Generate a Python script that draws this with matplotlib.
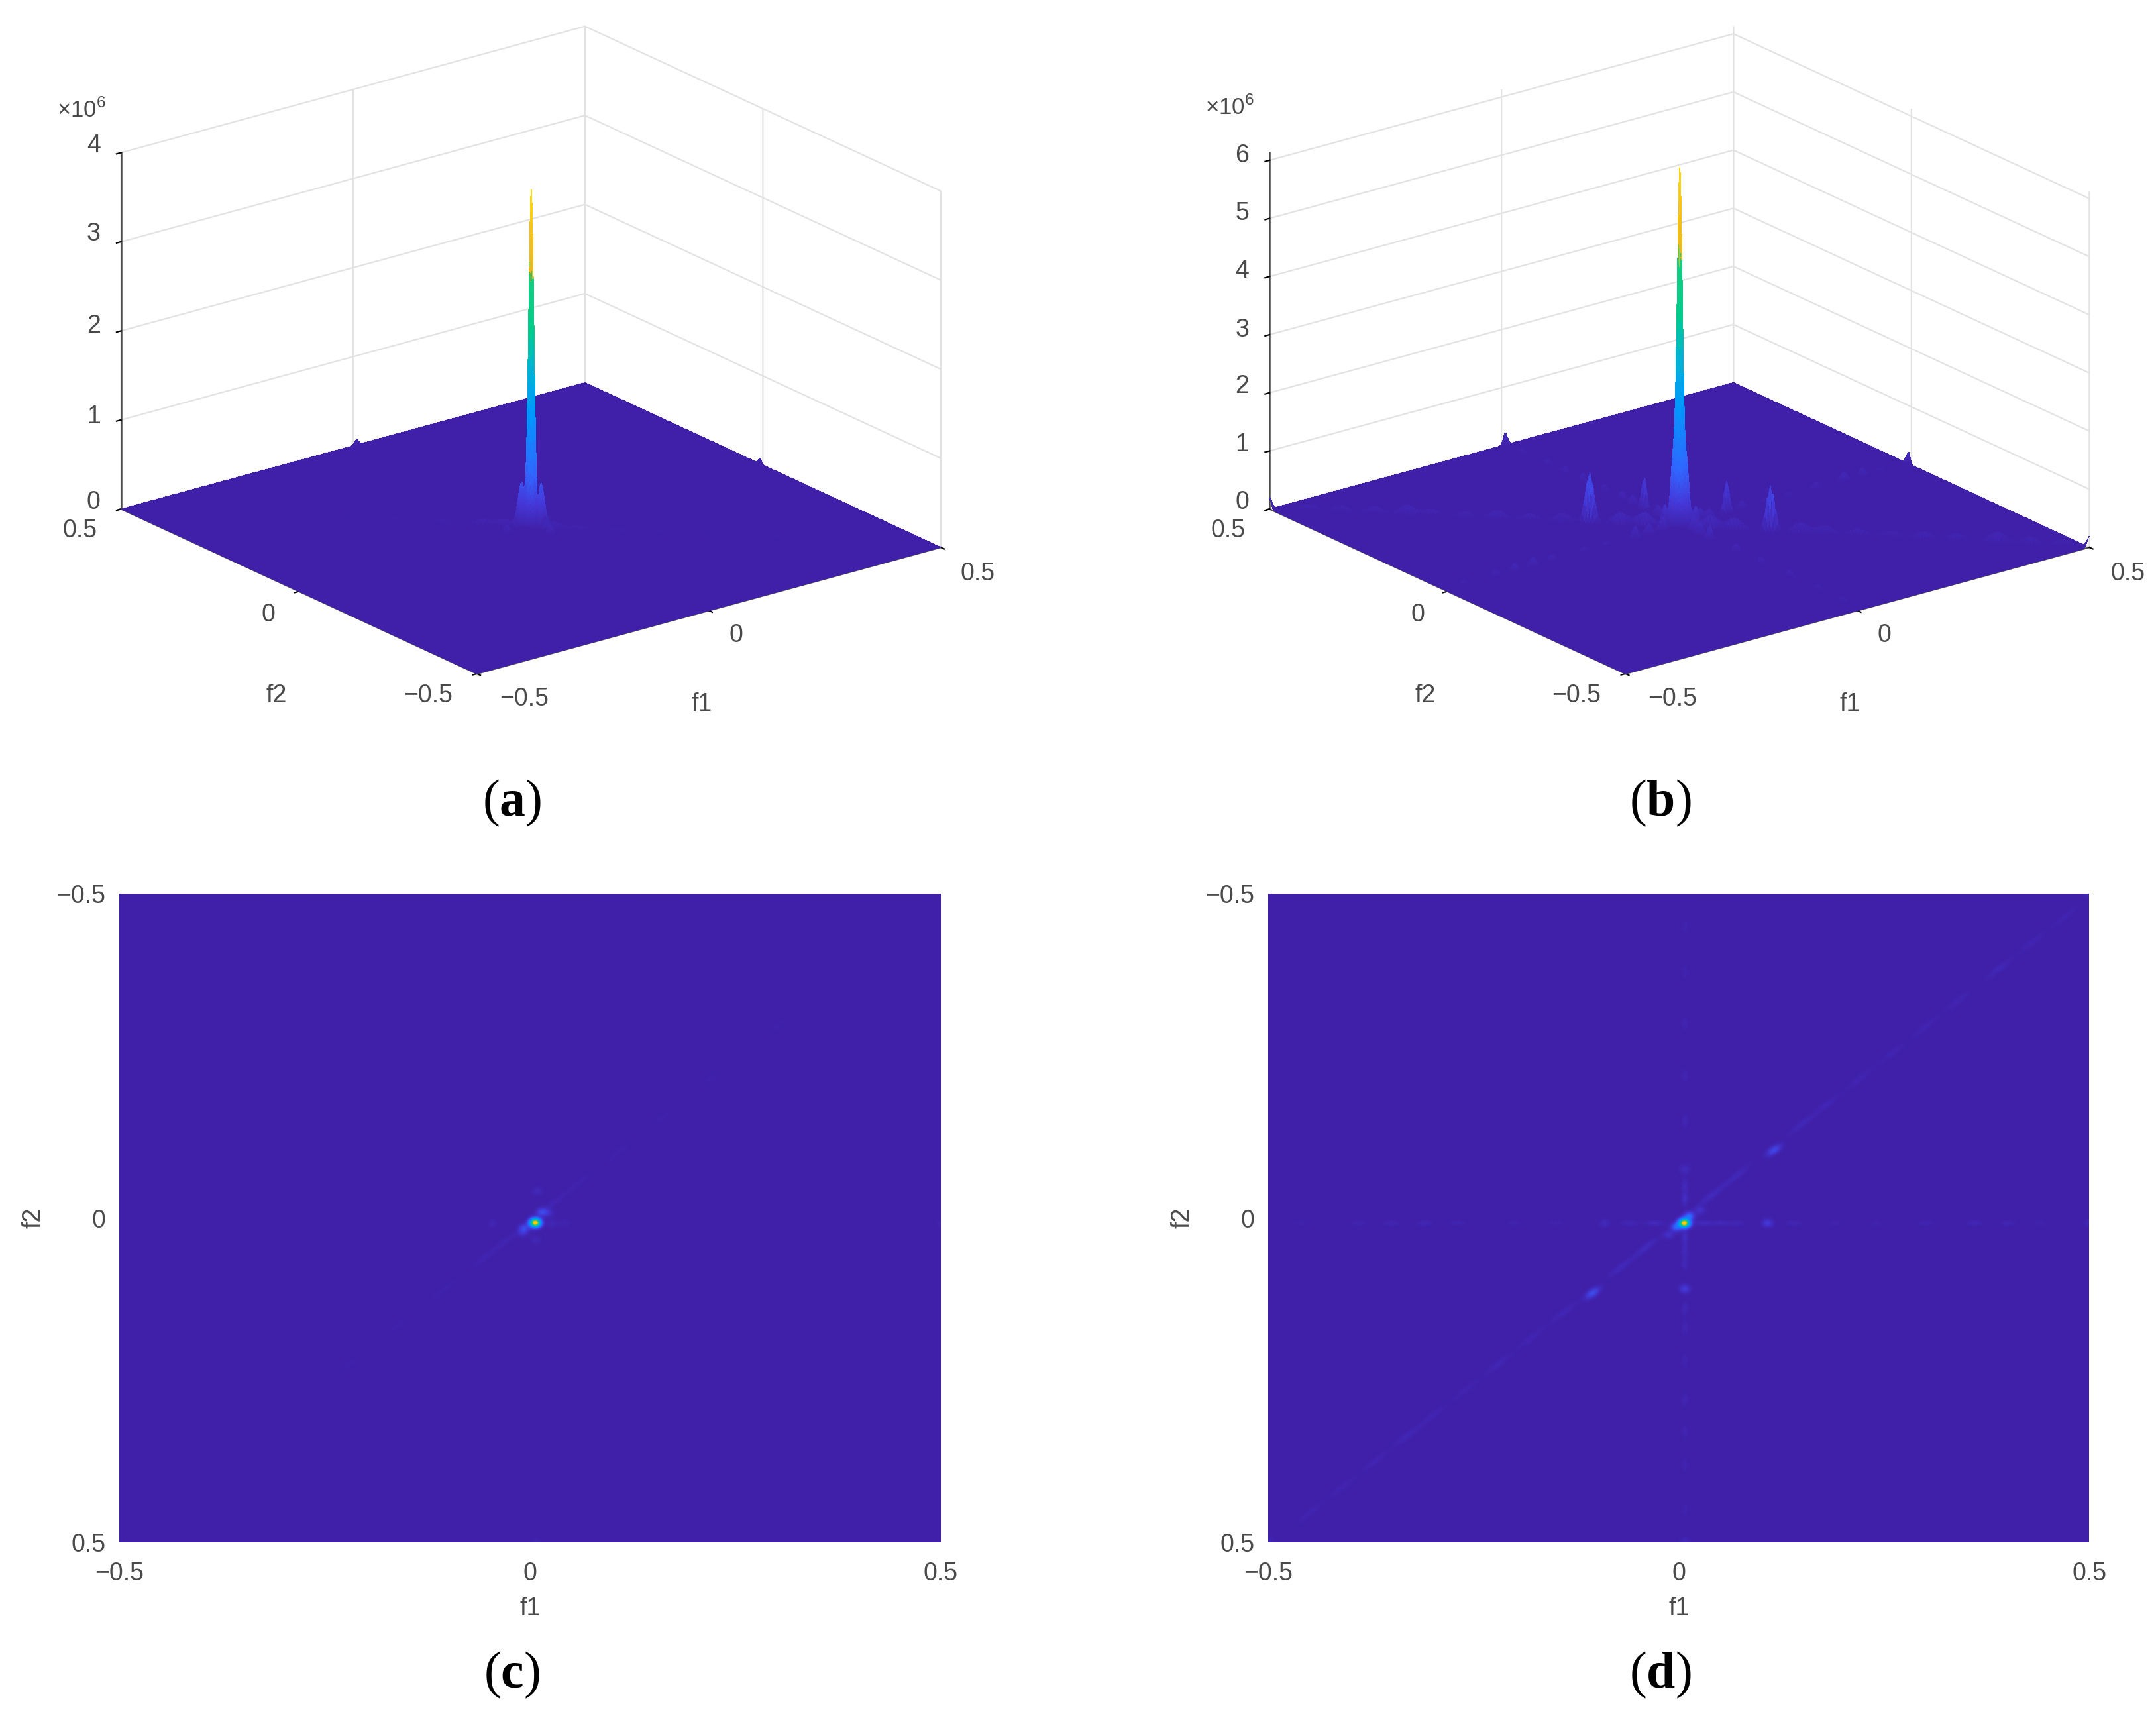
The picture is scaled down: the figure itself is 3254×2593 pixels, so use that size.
import numpy as np
import matplotlib
matplotlib.use("Agg")
import matplotlib.pyplot as plt
from matplotlib.colors import LinearSegmentedColormap
from mpl_toolkits.mplot3d import proj3d

W, H = 3255, 2593

plt.rcParams["font.family"] = ["Liberation Sans", "DejaVu Sans"]
plt.rcParams["mathtext.fontset"] = "custom"
plt.rcParams["mathtext.rm"] = "Liberation Sans"
plt.rcParams["mathtext.bf"] = "Liberation Serif:bold"

# parula-like map, with the sharp green to gold step the spike shows
parula = LinearSegmentedColormap.from_list("parula", [
  (0.00, (0.250, 0.125, 0.660)), (0.08, (0.270, 0.220, 0.850)), (0.18, (0.190, 0.400, 1.000)),
  (0.37, (0.000, 0.600, 1.000)), (0.53, (0.000, 0.720, 0.800)), (0.62, (0.000, 0.800, 0.550)),
  (0.78, (0.100, 0.800, 0.500)), (0.79, (0.900, 0.720, 0.150)), (0.90, (0.960, 0.760, 0.100)),
  (1.00, (1.000, 0.860, 0.020))], N=512)

# peaks: f1, f2, height in units of 1e6
a_f1 = [0.0065, -0.007, 0.014, -0.009, 0.022, 0.0075, 0.009, -0.046, 0.027, 0.043, 0.008, 0.500]
a_f2 = [0.0075, 0.0157, -0.0088, 0.023, -0.008, 0.034, -0.042, 0.008, 0.0085, 0.008, 0.500, 0.008]
a_amp = [3.79, 0.42, 0.42, 0.22, 0.22, 0.10, 0.12, 0.09, 0.10, 0.06, 0.06, 0.06]
a_diag_f1 = [-0.220, -0.160, -0.105, -0.056, -0.03, 0.03, 0.060, 0.109, 0.160, 0.220, 0.300]
a_diag_amp = [0.03, 0.03, 0.04, 0.07, 0.08, 0.08, 0.05, 0.04, 0.03, 0.03, 0.03]

b_f1 = [0.0069, 0.0129, -0.0031, -0.012, 0.026, 0.0075, 0.108, 0.0075, -0.090, 0.500, -0.500, 0.500, 0.008]
b_f2 = [0.0080, -0.0030, 0.0140, 0.026, -0.012, 0.109, 0.008, -0.075, 0.008, -0.500, 0.500, 0.008, 0.500]
b_amp = [6.13, 1.10, 1.10, 0.35, 0.35, 0.55, 0.55, 0.25, 0.22, 0.20, 0.20, 0.20, 0.20]
b_side_f1 = [0.116, -0.105]
b_side_f2 = [-0.105, 0.1155]
b_side_amp = [0.80, 0.89]

# weak lines of peaks in panels b and d
b_diag_f1 = [-0.45, -0.41, -0.37, -0.33, -0.30, -0.26, -0.22, -0.18, -0.14, -0.07, -0.04,
             0.04, 0.07, 0.15, 0.18, 0.22, 0.26, 0.30, 0.34, 0.39, 0.43, 0.47]
b_diag_amp = [0.11, 0.11, 0.13, 0.18, 0.13, 0.11, 0.16, 0.13, 0.16, 0.22, 0.25,
              0.25, 0.22, 0.19, 0.16, 0.13, 0.11, 0.13, 0.13, 0.19, 0.13, 0.11]
b_hori_f1 = [-0.46, -0.39, -0.35, -0.31, -0.27, -0.20, -0.15, -0.06, -0.03, 0.03, 0.05, 0.07,
             0.14, 0.19, 0.24, 0.30, 0.36, 0.40, 0.44]
b_hori_amp = [0.07, 0.11, 0.14, 0.16, 0.11, 0.09, 0.08, 0.18, 0.24, 0.24, 0.20, 0.16,
              0.14, 0.09, 0.08, 0.11, 0.16, 0.14, 0.07]
b_vert_f2 = [-0.45, -0.38, -0.30, -0.22, -0.15, -0.05, -0.03, 0.03, 0.05, 0.07, 0.14, 0.17,
             0.22, 0.28, 0.33, 0.38, 0.45]
b_vert_amp = [0.08, 0.09, 0.11, 0.11, 0.14, 0.22, 0.28, 0.28, 0.20, 0.18, 0.16, 0.14,
              0.11, 0.14, 0.11, 0.09, 0.08]

z_ticks_a = [0, 1, 2, 3, 4]
z_ticks_b = [0, 1, 2, 3, 4, 5, 6]
z_top_a = 4
z_top_b = 6.13
f_ticks = [-0.5, 0, 0.5]
f_labels = ["\u22120.5", "0", "0.5"]

SIG_MAIN = 0.0046
SIG_SIDE = 0.0045

nodes = np.unique(np.round(np.concatenate([
  np.arange(-0.5, 0.5001, 0.004), np.arange(-0.016, 0.030, 0.0008)]), 5))
F1, F2 = np.meshgrid(nodes, nodes)

def spectrum(f1s, f2s, amps, sig_first=SIG_SIDE):
  Z = np.zeros_like(F1)
  for i in range(len(f1s)):
    sig = sig_first if i == 0 else SIG_SIDE
    Z += amps[i] * np.exp(-((F1 - f1s[i])**2 + (F2 - f2s[i])**2) / (2 * sig**2))
  return Z

def streaks(f1s, f2s, amps, u, along, across):
  # peaks drawn out along the direction u
  Z = np.zeros_like(F1)
  for f1, f2, amp in zip(f1s, f2s, amps):
    d_along = (F1 - f1) * u[0] + (F2 - f2) * u[1]
    d_across = -(F1 - f1) * u[1] + (F2 - f2) * u[0]
    Z += amp * np.exp(-d_along**2 / (2 * along**2) - d_across**2 / (2 * across**2))
  return Z

DIAG = (0.7071, -0.7071)
Za = spectrum(a_f1, a_f2, a_amp, SIG_MAIN)
Za += streaks(a_diag_f1, [0.005 - v for v in a_diag_f1], a_diag_amp, DIAG, 0.014, 0.003)
Zb = spectrum(b_f1, b_f2, b_amp, SIG_MAIN)
Zb += streaks(b_side_f1, b_side_f2, b_side_amp, DIAG, 0.0075, 0.0035)
Zb += streaks(b_diag_f1, [0.005 - v for v in b_diag_f1], b_diag_amp, DIAG, 0.014, 0.003)
Zb += streaks(b_hori_f1, [0.008] * len(b_hori_f1), b_hori_amp, (1, 0), 0.007, 0.003)
Zb += streaks([0.0075] * len(b_vert_f2), b_vert_f2, b_vert_amp, (0, 1), 0.007, 0.003)

fig = plt.figure(figsize=(W / 100, H / 100), dpi=100, facecolor="white")
TXT = "#4a4a4a"
FS = 27

def put(x, y, s, **kw):
  kw.setdefault("fontsize", FS)
  kw.setdefault("color", TXT)
  fig.text(x * 2.076 / W, 1 - y * 2.076 / H, s, ha="center", va="center", **kw)

def fit_box(ax, x_left, x_right, y_floor):
  # scale and move the 3D axes so the floor corners land where they should
  for _ in range(2):
    ax.apply_aspect()
    xs, ys, _z = proj3d.proj_transform(
      np.array([-0.5, 0.5]), np.array([0.5, -0.5]), np.array([0.0, 0.0]), ax.get_proj())
    p = ax.transData.transform(np.column_stack([xs, ys]))
    box = ax.get_position(original=True)
    k = (x_right - x_left) / (p[1, 0] - p[0, 0])
    ax.set_position([box.x0, box.y0, box.width * k, box.height * k * W / H])
    ax.apply_aspect()
    p = ax.transData.transform(np.column_stack([xs, ys]))
    box = ax.get_position(original=True)
    dx = (x_left + x_right) / 2 - p[:, 0].mean()
    dy = (H - y_floor) - p[:, 1].mean()
    ax.set_position([box.x0 + dx / W, box.y0 + dy / H, box.width, box.height])

def panel_3d(Z, zticks, ztop, x0):
  ax = fig.add_axes([0.1, 0.5, 0.4, 0.5], projection="3d", proj_type="ortho",
                    azim=-127.5, elev=20.8, facecolor="none")
  ax.set_box_aspect((882, 882, 575))
  ax.set_xlim(-0.5, 0.5, view_margin=0)
  ax.set_ylim(-0.5, 0.5, view_margin=0)
  ax.set_zlim(0, ztop, view_margin=0)
  ax.set_xticks(f_ticks)
  ax.set_yticks(f_ticks)
  ax.set_zticks(zticks)
  ax.set_xticklabels([])
  ax.set_yticklabels([])
  ax.set_zticklabels([])
  ax.zaxis.set_ticks_position("upper")
  for axis in [ax.xaxis, ax.yaxis, ax.zaxis]:
    axis.set_pane_color((1, 1, 1, 0))
    axis.pane.set_edgecolor((1, 1, 1, 0))
    axis.line.set_color("#4d4d4d")
    axis.line.set_linewidth(1.8)
    axis._axinfo["grid"].update(color="#e2e2e2", linewidth=1.6)
    axis._axinfo["tick"].update(inward_factor=0.12, outward_factor=0, color="#4d4d4d")
    axis._axinfo["tick"]["linewidth"] = {True: 1.6, False: 1.0}
  ax.plot_surface(F1, F2, Z, rstride=1, cstride=1, cmap=parula, vmin=0, vmax=Z.max(),
                  linewidth=0, antialiased=False, shade=False)
  fit_box(ax, (x0) * 2.076, (x0 + 596) * 2.076, 384 * 2.076)
  return ax

def panel_2d(Z, left, right):
  ax = fig.add_axes([left / W, 1 - 2328 / H, (right - left) / W, (2328 - 1349.5) / H])
  ax.pcolormesh(F1, F2, Z, cmap=parula, vmin=0, vmax=Z.max(), shading="gouraud", rasterized=True)
  ax.set_xlim(-0.5, 0.5)
  ax.set_ylim(0.5, -0.5)
  ax.set_xticks(f_ticks, f_labels)
  ax.set_yticks(f_ticks, f_labels)
  ax.tick_params(length=0, labelsize=FS, labelcolor=TXT)
  ax.tick_params(axis="x", pad=21)
  ax.tick_params(axis="y", pad=15)
  for s in ax.spines.values():
    s.set_visible(False)
  ax.set_xlabel("f1", fontsize=FS, color=TXT, labelpad=12)
  ax.set_ylabel("f2", fontsize=FS, color=TXT, labelpad=12)
  return ax

panel_3d(Za, z_ticks_a, z_top_a, 88)
panel_3d(Zb, z_ticks_b, z_top_b, 923)
panel_2d(Za, 180, 1420)
panel_2d(Zb, 1914, 3153.5)

# text round panel a
for z, y in zip(z_ticks_a, [365, 303, 237, 170, 106]):
  put(68, y, str(z))
put(59, 80, "\u00d710$^{6}$", fontsize=25)
for s, x, y in zip(f_labels, [311, 195, 58], [506, 447, 386]):
  put(x, y, s)
for s, x, y in zip(f_labels, [381, 535, 711], [508, 462, 417]):
  put(x, y, s)
put(201, 506, "f2")
put(510, 512, "f1")

# text round panel b
for z, y in zip(z_ticks_b, [365, 323, 281, 240, 197, 155, 113]):
  put(903, y, str(z))
put(894, 78, "\u00d710$^{6}$", fontsize=25)
for s, x, y in zip(f_labels, [1146, 1031, 893], [506, 447, 386]):
  put(x, y, s)
for s, x, y in zip(f_labels, [1216, 1370, 1547], [508, 462, 417]):
  put(x, y, s)
put(1036, 506, "f2")
put(1345, 512, "f1")

for s, x, y in [("a", 372, 584), ("b", 1207, 584), ("c", 372, 1218), ("d", 1207, 1218)]:
  put(x, y, "($\\mathbf{" + s + "}$)", fontsize=56, color="black", family="Liberation Serif")

fig.savefig("out.png", dpi=100)
